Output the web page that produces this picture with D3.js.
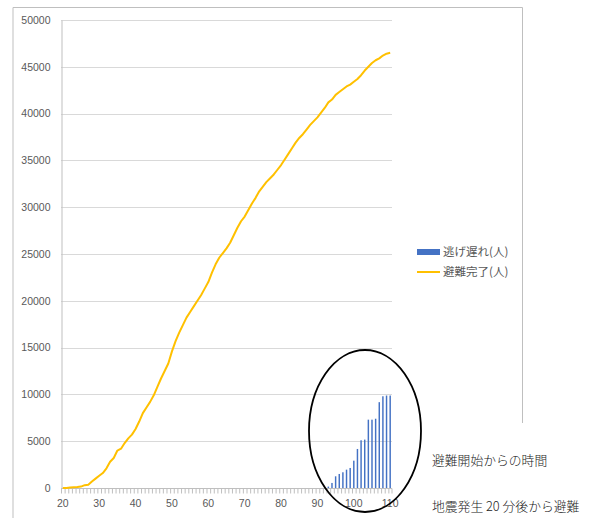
<!DOCTYPE html>
<html>
<head>
<meta charset="utf-8">
<script src="https://cdn.jsdelivr.net/npm/d3@7"></script>
<style>
  body { margin: 0; background: #fff; }
</style>
</head>
<body>
<div id="container"></div>
<script>
// categories: minutes after evacuation start
let minutes = d3.range(20, 111);

// 避難完了(人) - one value per minute, 20..110
let doneValues = [
  0, 0, 50, 80, 100, 150, 300, 350, 700, 1000,
  1300, 1600, 2100, 2800, 3200, 4000, 4200, 4800, 5300, 5700,
  6300, 7100, 8000, 8600, 9200, 9900, 10800, 11700, 12500, 13300,
  14600, 15700, 16600, 17400, 18200, 18800, 19400, 20000, 20600, 21300,
  22000, 23000, 23900, 24600, 25100, 25600, 26200, 27000, 27800, 28500,
  29000, 29700, 30400, 31000, 31700, 32200, 32700, 33100, 33500, 34000,
  34500, 35100, 35700, 36300, 36900, 37400, 37800, 38300, 38800, 39200,
  39600, 40100, 40600, 41200, 41500, 42000, 42300, 42600, 42900, 43100,
  43400, 43700, 44100, 44600, 45000, 45400, 45700, 45900, 46200, 46400,
  46500
];

// 逃げ遅れ(人) - only non-zero from minute 93
let lateMinutes = [93, 94, 95, 96, 97, 98, 99, 100, 101, 102, 103, 104, 105, 106, 107, 108, 109, 110];
let lateValues = [150, 540, 1250, 1500, 1680, 1960, 2140, 2920, 4170, 5100, 5170, 7300, 7300, 7400, 9170, 9800, 9880, 9880];

let yTicks = [0, 5000, 10000, 15000, 20000, 25000, 30000, 35000, 40000, 45000, 50000];
let xLabels = [20, 30, 40, 50, 60, 70, 80, 90, 100, 110];

let legendNames = ["逃げ遅れ(人)", "避難完了(人)"];
let noteLines = ["避難開始からの時間", "地震発生 20 分後から避難"];

let viz = d3.select("#container")
  .append("svg")
    .attr("width", 594)
    .attr("height", 518)
;

let x = d3.scaleBand()
  .domain(minutes)
  .range([61, 392])
  .padding(0);

let y = d3.scaleLinear()
  .domain([0, 50000])
  .range([488, 20]);

let bw = x.bandwidth();

// chart frame (cut off at the bottom)
viz.append("path")
  .attr("d", "M13,518 L13,7.5 L522.5,7.5 L522.5,423")
  .attr("fill", "none")
  .attr("stroke", "#bfbfbf")
  .attr("stroke-width", 1)
;

// gridlines
viz.append("g")
  .selectAll("line")
  .data(yTicks.filter(d => d > 0))
  .join("line")
    .attr("x1", 61)
    .attr("x2", 392)
    .attr("y1", d => Math.round(y(d)) + 0.5)
    .attr("y2", d => Math.round(y(d)) + 0.5)
    .attr("stroke", "#d9d9d9")
    .attr("stroke-width", 1)
;

// y axis
let yAxis = viz.append("g")
  .attr("transform", "translate(61.5,0)")
  .call(d3.axisLeft(y).tickValues(yTicks).tickSize(0).tickPadding(11).tickFormat(d3.format("d")));
yAxis.select(".domain").attr("stroke", "#bfbfbf");
yAxis.selectAll("text")
  .attr("font-family", "Liberation Sans, Arial, sans-serif")
  .attr("font-size", 10.5)
  .attr("fill", "#595959");

// x axis line and minor ticks
viz.append("line")
  .attr("x1", 61)
  .attr("x2", 392)
  .attr("y1", 488.5)
  .attr("y2", 488.5)
  .attr("stroke", "#bfbfbf")
;

viz.append("g")
  .selectAll("line")
  .data(minutes.concat(["end"]))
  .join("line")
    .attr("x1", d => d === "end" ? 392 : x(d) + 0.5)
    .attr("x2", d => d === "end" ? 392 : x(d) + 0.5)
    .attr("y1", 488.5)
    .attr("y2", 493.5)
    .attr("stroke", "#bfbfbf")
    .attr("stroke-width", 1)
;

viz.append("g")
  .selectAll("text")
  .data(xLabels)
  .join("text")
    .text(d => d)
    .attr("x", d => x(d) + bw / 2)
    .attr("y", 507)
    .attr("text-anchor", "middle")
    .attr("font-family", "Liberation Sans, Arial, sans-serif")
    .attr("font-size", 10.5)
    .attr("fill", "#595959")
;

// bars
viz.append("g")
  .selectAll("rect")
  .data(lateMinutes)
  .join("rect")
    .attr("x", d => x(d) + bw * 0.3)
    .attr("width", bw * 0.4)
    .attr("y", (d, i) => y(lateValues[i]))
    .attr("height", (d, i) => y(0) - y(lateValues[i]))
    .attr("fill", "#4472c4")
;

// line
let line = d3.line()
  .x((d, i) => x(minutes[i]) + bw / 2)
  .y(d => y(d));

viz.append("path")
  .datum(doneValues)
  .attr("d", line)
  .attr("fill", "none")
  .attr("stroke", "#ffc000")
  .attr("stroke-width", 2)
  .attr("stroke-linejoin", "round")
;

// legend
viz.append("rect")
  .attr("x", 417)
  .attr("y", 249)
  .attr("width", 23)
  .attr("height", 6)
  .attr("fill", "#4472c4")
;

viz.append("line")
  .attr("x1", 417)
  .attr("x2", 440)
  .attr("y1", 272)
  .attr("y2", 272)
  .attr("stroke", "#ffc000")
  .attr("stroke-width", 2)
;

viz.append("g")
  .selectAll("text")
  .data(legendNames)
  .join("text")
    .text(d => d)
    .attr("x", 443)
    .attr("y", (d, i) => 256 + i * 20)
    .attr("font-family", "Noto Sans CJK JP")
    .attr("font-size", 11.5)
    .attr("fill", "#595959")
;

// ellipse annotation
viz.append("ellipse")
  .attr("cx", 365)
  .attr("cy", 431)
  .attr("rx", 56)
  .attr("ry", 81)
  .attr("fill", "none")
  .attr("stroke", "black")
  .attr("stroke-width", 1.8)
;

// notes
viz.append("g")
  .selectAll("text")
  .data(noteLines)
  .join("text")
    .text(d => d)
    .attr("x", 432)
    .attr("y", (d, i) => 465 + i * 46)
    .attr("font-family", "Noto Sans CJK JP")
    .attr("font-size", 12.8)
    .attr("font-weight", 300)
    .attr("fill", "#222")
;
</script>
</body>
</html>
